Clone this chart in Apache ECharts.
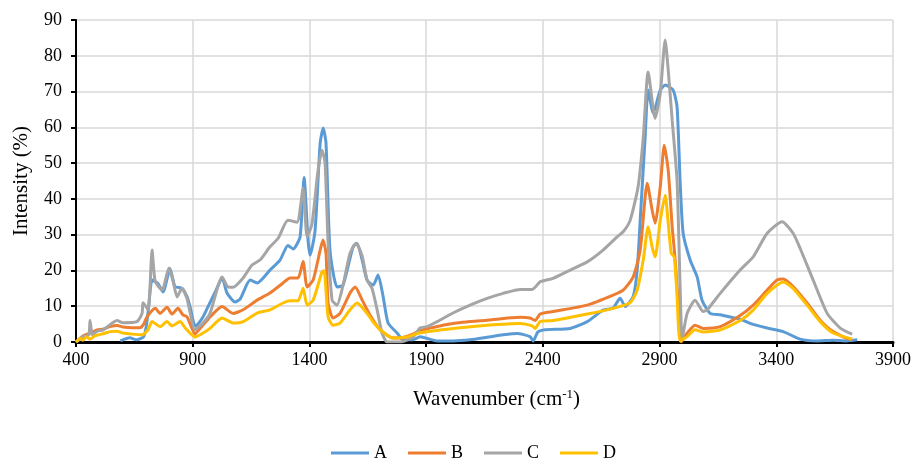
<!DOCTYPE html>
<html><head><meta charset="utf-8">
<script src="https://cdn.jsdelivr.net/npm/echarts@6/dist/echarts.min.js"></script>
<style>html,body{margin:0;padding:0;background:#fff}#c{width:916px;height:460px}</style>
</head><body><div id="c"></div>
<script>
var seriesNames = ['A','B','C','D'];
var xTicks = [400,900,1400,1900,2400,2900,3400,3900];
var yTicks = [0,10,20,30,40,50,60,70,80,90];

var wnA = [590,600,630,660,690,700,710,726,750,773,803,824,854,876,888,910,918,944,974,1000,1026,1047,1081,1103,1146,1176,1231,1274,1308,1330,1360,1377,1394,1403,1424,1446,1459,1471,1488,1518,1544,1587,1604,1626,1647,1673,1694,1716,1737,1776,1801,1844,1874,1904,1947,2015,2088,2161,2230,2290,2345,2358,2379,2410,2517,2590,2658,2701,2731,2753,2787,2804,2817,2838,2851,2873,2903,2924,2958,2975,2988,3001,3031,3061,3082,3117,3160,3215,3245,3288,3361,3430,3502,3575,3644,3700,3747];
var valA = [0.3,0.6,1.2,0.6,1.5,4,9,17.3,16.4,14,20.5,15.5,15,12.6,10,4.5,4.7,7,11,14.5,17.9,13.7,11.2,12,17.3,16.5,20.1,22.9,27,26,29.4,46,28.5,24.3,31,55.6,59.8,55.6,25.7,15.4,15.9,26.6,27.6,22.9,17.3,15.9,18.7,12.6,5.3,2.5,0.6,0.6,1.5,1.0,0.3,0.3,0.6,1.3,2,2.4,1.5,0.3,2.8,3.4,3.8,5.7,8.9,9.5,12.2,9.9,12.7,20,34,57,70.4,64,70.4,71.8,70.4,65.7,45,30.4,22.9,18.2,11.7,8,7.6,6.8,6.4,5.2,3.9,2.9,0.8,0.3,0.5,0.3,0.6];

var wnB = [400,430,460,490,516,546,576,602,640,674,690,704,740,760,790,811,837,858,876,910,918,961,974,1026,1073,1116,1176,1231,1287,1317,1351,1373,1390,1416,1446,1458,1471,1480,1501,1531,1574,1596,1626,1660,1703,1758,1788,1844,1874,2015,2161,2303,2345,2367,2388,2444,2590,2701,2744,2787,2817,2847,2868,2881,2903,2920,2937,2954,2967,2980,2993,3018,3052,3087,3160,3245,3301,3361,3403,3430,3472,3532,3588,3644,3717,3725];
var valB = [0,1.7,2.5,3.4,3.6,4.3,4.6,4.2,4,4,5,7,9.4,8,9.7,7.8,9.4,7.6,7,2.2,2.8,6,7,9.9,8,9,11.7,13.7,16.5,17.9,17.9,22.5,15.4,17.3,25.7,28.5,24.8,10.9,6.7,8,13.7,15.4,11.7,7.5,3.4,1.1,1.1,2.2,3.2,5.2,6.1,6.9,6.7,6,7.8,8.5,10.3,13.1,14.5,18.2,25.7,44.4,36.9,33.2,43.4,55,48,32.2,22.9,10.9,0,2.5,4.7,3.8,4.3,7.4,10.3,14.5,17.3,17.6,15.5,10.9,6.1,2.9,0.8,0.8];

var wnC = [400,430,455,460,470,490,516,576,601,661,683,687,709,726,739,769,798,816,833,854,876,910,944,974,1026,1051,1073,1116,1154,1188,1231,1266,1308,1347,1373,1390,1411,1437,1454,1467,1480,1497,1518,1544,1574,1600,1626,1647,1668,1690,1711,1733,1788,1844,1874,1904,1947,2015,2088,2161,2230,2303,2354,2367,2388,2444,2517,2590,2658,2718,2744,2774,2808,2830,2851,2881,2903,2924,2937,2954,2975,2988,2997,3018,3052,3087,3104,3160,3245,3301,3361,3425,3472,3502,3558,3618,3674,3725];
var valC = [0,1.5,2,6,2,3,3.4,6,5.4,5.7,8,11,9,25.7,17,14.5,20.7,17,12.6,15,12,3.5,5.3,8,18.2,15.4,15.3,17.9,21.5,22.9,26.6,29,34,33.5,43,29.4,33,48,53.6,50,27.6,11.7,10.3,15.9,24.8,27.6,24,17.3,15,9,2.5,0,0,1.4,3.9,4.3,5.7,8.1,10.3,12.2,13.6,14.7,14.7,15.3,16.8,17.8,20.1,22.4,25.7,29.4,30.8,34,43.4,57,75.5,62.5,69.5,84.4,76,62,45,15.5,1,8,11.7,8.5,9,13.6,20.1,23.8,30.4,33.6,30.4,26.2,17.3,8,3.9,2.2];

var wnD = [400,420,430,445,460,481,516,546,576,601,640,683,709,726,760,790,811,846,867,910,944,974,1026,1073,1116,1176,1231,1287,1317,1351,1373,1390,1416,1454,1463,1480,1501,1531,1574,1604,1647,1673,1711,1758,1818,1874,2015,2161,2303,2354,2367,2388,2444,2590,2701,2774,2804,2830,2851,2868,2881,2903,2924,2937,2950,2963,2975,2988,3018,3052,3087,3160,3245,3301,3361,3430,3472,3532,3588,3644,3725];
var valD = [0,1,0.5,1.5,0.8,1.7,2.3,2.9,3,2.5,2.2,2,3.5,5.7,4.3,5.7,4.5,5.7,4,1.4,2.5,3.8,6.7,5.3,5.7,8.1,9,10.9,11.5,11.5,15,10.3,11.7,19.6,19.9,7,4.7,5.3,9,10.9,8,5.6,3,1.1,1.4,2.6,3.8,4.7,5.2,4.5,3.8,5.7,6,7.8,9.4,11,14.5,22.9,32.2,26.6,23.8,34,41,33.2,24.8,23.8,12.7,0.3,1.5,3.4,2.8,3.4,6,8.9,13.6,16.8,15,10.3,5.7,2.5,0.8];

var colors = ['#5B9BD5','#ED7D31','#A5A5A5','#FFC000'];
function pairs(xs, ys){ return xs.map(function(x,i){ return [x, ys[i]]; }); }
var allData = [pairs(wnA,valA), pairs(wnB,valB), pairs(wnC,valC), pairs(wnD,valD)];

var font = 'Liberation Serif';
var chart = echarts.init(document.getElementById('c'), null, {renderer:'canvas'});
chart.setOption({
  animation: false,
  color: colors,
  grid: {left: 76, right: 23, top: 20, bottom: 118, containLabel: false},
  legend: {
    data: seriesNames, top: 439, left: 326, icon: 'rect',
    itemWidth: 38, itemHeight: 3, itemGap: 21,
    textStyle: {fontFamily: font, fontSize: 18, color: '#000'}
  },
  xAxis: {
    type: 'value', min: xTicks[0], max: xTicks[xTicks.length-1], interval: 500,
    name: '{a|Wavenumber (cm}{s|-1}{a|)}', nameLocation: 'middle', nameGap: 46,
    nameTextStyle: {padding: [0,0,0,24], rich: {a: {fontFamily: font, fontSize: 21, color: '#000'}, s: {fontFamily: font, fontSize: 13, color: '#000', verticalAlign: 'top', padding: [0,0,10,0]}}},
    axisLine: {show: true, onZero: false, lineStyle: {color: '#000', width: 3}},
    axisTick: {show: true, length: 5, lineStyle: {color: '#000', width: 2}},
    axisLabel: {fontFamily: font, fontSize: 18, color: '#000', margin: 9, formatter: function(v){ return String(v); }},
    splitLine: {show: true, lineStyle: {color: '#d9d9d9', width: 1.5}}
  },
  yAxis: {
    type: 'value', min: 0, max: 90, interval: 10,
    name: 'Intensity (%)', nameLocation: 'middle', nameGap: 44, nameRotate: 90,
    nameTextStyle: {fontFamily: font, fontSize: 21, color: '#000'},
    axisLine: {show: true, lineStyle: {color: '#000', width: 2}},
    axisTick: {show: true, length: 5, lineStyle: {color: '#000', width: 2}},
    axisLabel: {fontFamily: font, fontSize: 18, color: '#000', margin: 14, formatter: function(v){ return String(v); }},
    splitLine: {show: true, lineStyle: {color: '#d9d9d9', width: 1.5}}
  },
  series: seriesNames.map(function(n, i){
    return {name: n, type: 'line', data: allData[i], showSymbol: false, smooth: 0.2,
      lineStyle: {width: 3, color: colors[i]}, z: 2 + i};
  })
});
</script></body></html>
